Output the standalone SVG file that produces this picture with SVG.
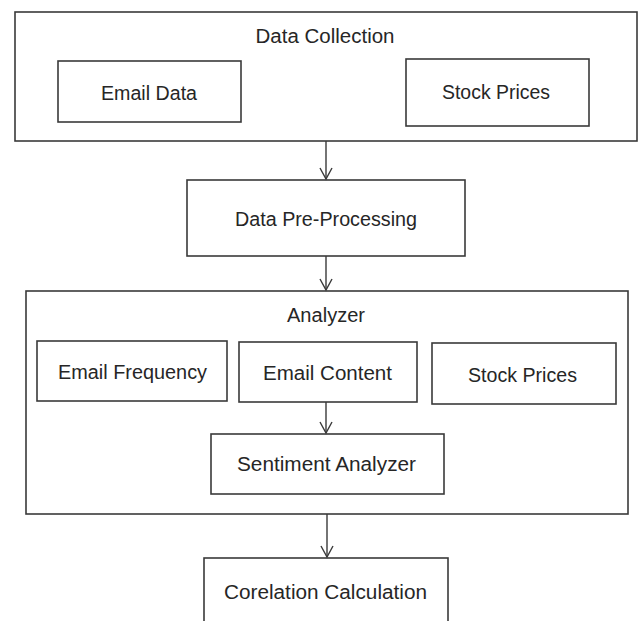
<svg xmlns="http://www.w3.org/2000/svg" width="640" height="621" viewBox="0 0 640 621">
<style>
rect{fill:#ffffff;stroke:#3a3a3a;stroke-width:1.6}
text{font-family:"Liberation Sans",Arial,sans-serif;font-size:20px;fill:#262626;text-anchor:middle}
.c line{stroke:#3a3a3a;stroke-width:1.4}
</style>
<defs>
<marker id="arr" markerUnits="userSpaceOnUse" markerWidth="16" markerHeight="16" viewBox="-12 -8 14 16" refX="0" refY="0" orient="auto">
<path d="M-11,-6 L0,0 L-11,6" fill="none" stroke="#3a3a3a" stroke-width="1.4"/>
</marker>
</defs>
<rect x="0" y="0" width="640" height="621" style="stroke:none"/>
<g id="data-collection">
<rect x="15" y="12" width="622" height="129"/>
<text x="325" y="43" textLength="139" lengthAdjust="spacingAndGlyphs">Data Collection</text>
</g>
<g id="email-data">
<rect x="58" y="61" width="183" height="61"/>
<text x="149" y="100" textLength="96" lengthAdjust="spacingAndGlyphs">Email Data</text>
</g>
<g id="stock-prices-1">
<rect x="406" y="59" width="183" height="67"/>
<text x="496" y="99" textLength="108" lengthAdjust="spacingAndGlyphs">Stock Prices</text>
</g>
<g id="data-preprocessing">
<rect x="187" y="180" width="278" height="76"/>
<text x="326" y="226" textLength="182" lengthAdjust="spacingAndGlyphs">Data Pre-Processing</text>
</g>
<g id="analyzer">
<rect x="26" y="291" width="602" height="223"/>
<text x="326" y="322" textLength="78" lengthAdjust="spacingAndGlyphs">Analyzer</text>
</g>
<g id="email-frequency">
<rect x="37" y="341" width="190" height="60"/>
<text x="132.5" y="379" textLength="149" lengthAdjust="spacingAndGlyphs">Email Frequency</text>
</g>
<g id="email-content">
<rect x="239" y="342" width="178" height="60"/>
<text x="327.5" y="380" textLength="129" lengthAdjust="spacingAndGlyphs">Email Content</text>
</g>
<g id="stock-prices-2">
<rect x="432" y="343" width="184" height="61"/>
<text x="522.5" y="382" textLength="109" lengthAdjust="spacingAndGlyphs">Stock Prices</text>
</g>
<g id="sentiment-analyzer">
<rect x="211" y="434" width="233" height="60"/>
<text x="326.5" y="471" textLength="179" lengthAdjust="spacingAndGlyphs">Sentiment Analyzer</text>
</g>
<g id="corelation-calculation">
<rect x="204" y="558" width="244" height="80"/>
<text x="325.5" y="599" textLength="203" lengthAdjust="spacingAndGlyphs">Corelation Calculation</text>
</g>
<g id="connectors" class="c">
<line x1="326" y1="141" x2="326" y2="179" marker-end="url(#arr)"/>
<line x1="326" y1="256" x2="326" y2="290" marker-end="url(#arr)"/>
<line x1="326" y1="402" x2="326" y2="433" marker-end="url(#arr)"/>
<line x1="327" y1="514" x2="327" y2="557" marker-end="url(#arr)"/>
</g>
</svg>
